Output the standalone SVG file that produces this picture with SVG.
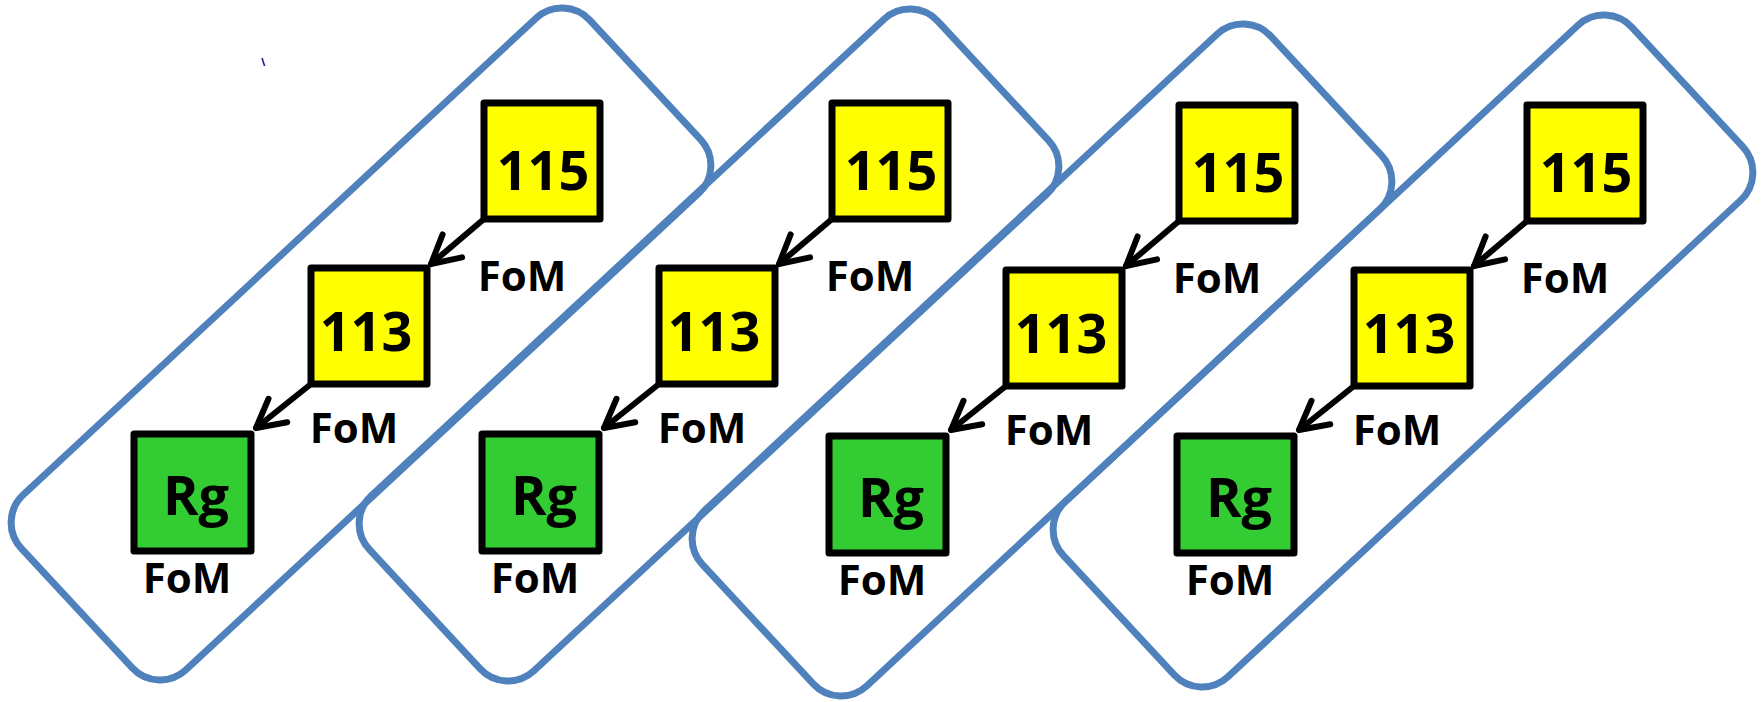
<svg xmlns="http://www.w3.org/2000/svg" width="1762" height="702" viewBox="0 0 1762 702">
  <defs>
    <style>
      .frame { fill: none; stroke: #4F81BD; stroke-width: 7; }
      .box { stroke: #000; stroke-width: 7; stroke-linejoin: round; }
      .yellow { fill: #FFFF00; }
      .green { fill: #33CC33; }
      .lbl { font-family: "Open Sans", "Liberation Sans", sans-serif; font-weight: 700; font-size: 54px; text-anchor: middle; fill: #000; }
      .fom { font-family: "Open Sans", "Liberation Sans", sans-serif; font-weight: 700; font-size: 42px; text-anchor: middle; fill: #000; }
      .edge { stroke: #000; stroke-width: 6; fill: none; stroke-linecap: round; marker-end: url(#arrow); }
    </style>
    <!-- open V arrowhead -->
    <marker id="arrow" markerUnits="userSpaceOnUse" orient="auto" refX="0" refY="0" markerWidth="40" markerHeight="40" overflow="visible">
      <path d="M-28,-15 L0,0 L-28,15" fill="none" stroke="#000" stroke-width="6" stroke-linecap="round" stroke-linejoin="round"/>
    </marker>
    <!-- rotated rounded frame around one chain -->
    <rect id="frameShape" class="frame" x="-388" y="-119.5" width="776" height="239" rx="38" transform="translate(361,344) rotate(-42.9)"/>
  </defs>

  <rect width="1762" height="702" fill="#FFFFFF"/>

  <!-- small stray tick -->
  <path d="M262,58 L264.6,66" stroke="#1F1FA0" stroke-width="1.6" fill="none"/>

  <!-- frames -->
  <g id="frames">
    <use id="frame-1" href="#frameShape"/>
    <use id="frame-2" href="#frameShape" transform="translate(348,1)"/>
    <use id="frame-3" href="#frameShape" transform="translate(681,16)"/>
    <use id="frame-4" href="#frameShape" transform="translate(1042,7)"/>
  </g>

  <!-- connectors and their FoM labels -->
  <g id="connectors">
    <g transform="translate(0,0)">
      <path class="edge" d="M484,219 L431,264"/>
      <path class="edge" d="M311,384 L256,428"/>
      <text class="fom" x="522" y="291">FoM</text>
      <text class="fom" x="354" y="443">FoM</text>
    </g>
    <g transform="translate(348,0)">
      <path class="edge" d="M484,219 L431,264"/>
      <path class="edge" d="M311,384 L256,428"/>
      <text class="fom" x="522" y="291">FoM</text>
      <text class="fom" x="354" y="443">FoM</text>
    </g>
    <g transform="translate(695,2)">
      <path class="edge" d="M484,219 L431,264"/>
      <path class="edge" d="M311,384 L256,428"/>
      <text class="fom" x="522" y="291">FoM</text>
      <text class="fom" x="354" y="443">FoM</text>
    </g>
    <g transform="translate(1043,2)">
      <path class="edge" d="M484,219 L431,264"/>
      <path class="edge" d="M311,384 L256,428"/>
      <text class="fom" x="522" y="291">FoM</text>
      <text class="fom" x="354" y="443">FoM</text>
    </g>
  </g>

  <!-- chain 1 -->
  <g id="chain-1">
    <g id="n115-1">
      <rect class="box yellow" x="484" y="103" width="116" height="116"/>
      <text class="lbl" x="543" y="190">115</text>
    </g>
    <g id="n113-1">
      <rect class="box yellow" x="311" y="268" width="116" height="116"/>
      <text class="lbl" x="366" y="351">113</text>
    </g>
    <g id="rg-1">
      <rect class="box green" x="134" y="434" width="117" height="117"/>
      <text class="lbl" x="196" y="515">Rg</text>
      <text class="fom" x="187" y="593">FoM</text>
    </g>
  </g>

  <!-- chain 2 -->
  <g id="chain-2" transform="translate(348,0)">
    <g id="n115-2">
      <rect class="box yellow" x="484" y="103" width="116" height="116"/>
      <text class="lbl" x="543" y="190">115</text>
    </g>
    <g id="n113-2">
      <rect class="box yellow" x="311" y="268" width="116" height="116"/>
      <text class="lbl" x="366" y="351">113</text>
    </g>
    <g id="rg-2">
      <rect class="box green" x="134" y="434" width="117" height="117"/>
      <text class="lbl" x="196" y="515">Rg</text>
      <text class="fom" x="187" y="593">FoM</text>
    </g>
  </g>

  <!-- chain 3 -->
  <g id="chain-3" transform="translate(695,2)">
    <g id="n115-3">
      <rect class="box yellow" x="484" y="103" width="116" height="116"/>
      <text class="lbl" x="543" y="190">115</text>
    </g>
    <g id="n113-3">
      <rect class="box yellow" x="311" y="268" width="116" height="116"/>
      <text class="lbl" x="366" y="351">113</text>
    </g>
    <g id="rg-3">
      <rect class="box green" x="134" y="434" width="117" height="117"/>
      <text class="lbl" x="196" y="515">Rg</text>
      <text class="fom" x="187" y="593">FoM</text>
    </g>
  </g>

  <!-- chain 4 -->
  <g id="chain-4" transform="translate(1043,2)">
    <g id="n115-4">
      <rect class="box yellow" x="484" y="103" width="116" height="116"/>
      <text class="lbl" x="543" y="190">115</text>
    </g>
    <g id="n113-4">
      <rect class="box yellow" x="311" y="268" width="116" height="116"/>
      <text class="lbl" x="366" y="351">113</text>
    </g>
    <g id="rg-4">
      <rect class="box green" x="134" y="434" width="117" height="117"/>
      <text class="lbl" x="196" y="515">Rg</text>
      <text class="fom" x="187" y="593">FoM</text>
    </g>
  </g>
</svg>
